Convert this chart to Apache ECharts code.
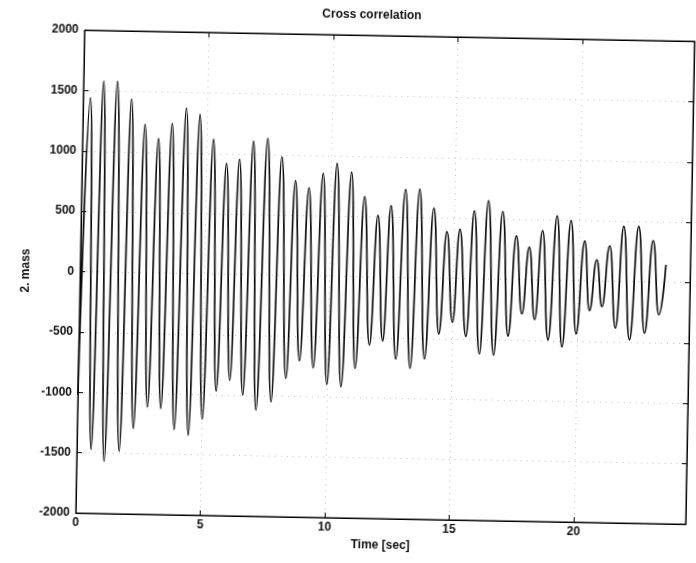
<!DOCTYPE html>
<html>
<head>
<meta charset="utf-8">
<script src="https://cdn.jsdelivr.net/npm/echarts@6/dist/echarts.min.js"></script>
<style>
html, body { margin: 0; padding: 0; background: #ffffff; overflow: hidden; }
#chart { width: 696px; height: 563px; transform: rotate(1.05deg); transform-origin: 50% 50%; }
</style>
</head>
<body>
<div id="chart"></div>
<script>
// ---- data (alternating extrema of the signal) ----
const chartTitle = 'Cross correlation';
const xAxisName = 'Time [sec]';
const yAxisName = '2. mass';

const sampleTimes = [
  0, 0.29, 0.57, 0.81, 1.10, 1.36, 1.70, 1.94, 2.25, 2.50, 2.80, 3.05, 3.34, 3.59, 3.89,
  4.15, 4.46, 4.70, 5.01, 5.26, 5.55, 5.80, 6.09, 6.32, 6.62, 6.87, 7.16, 7.44, 7.76,
  8.02, 8.34, 8.58, 8.87, 9.13, 9.43, 9.69, 9.99, 10.24, 10.56, 10.83, 11.11, 11.37,
  11.67, 11.92, 12.20, 12.44, 12.74, 13.01, 13.32, 13.58, 13.89, 14.16, 14.45, 14.70,
  14.99, 15.22, 15.54, 15.79, 16.09, 16.35, 16.66, 16.93, 17.23, 17.49, 17.77, 18.02,
  18.29, 18.54, 18.84, 19.12, 19.40, 19.68, 19.96, 20.24, 20.48, 20.74, 20.98, 21.25,
  21.54, 21.80, 22.11, 22.40, 22.71, 22.99, 23.27, 23.52
];
const sampleValues = [
  -1020, 1440, -1472, 1581, -1566, 1583, -1482, 1436, -1291, 1228, -1110, 1115, -1121, 1241, -1293,
  1370, -1338, 1320, -1203, 1117, -969, 918, -876, 953, -998, 1107, -1120, 1132, -1049,
  981, -853, 785, -705, 727, -761, 851, -896, 936, -914, 864, -759, 663,
  -564, 510, -528, 593, -676, 731, -750, 734, -671, 578, -462, 387,
  -363, 408, -478, 562, -620, 650, -629, 561, -468, 362, -282, 270,
  -328, 410, -494, 534, -550, 497, -440, 331, -245, 176, -210, 294,
  -387, 456, -482, 458, -424, 342, -270, 145
];

const xMin = 0, xMax = 24.5, xStep = 5;
const yMin = -2000, yMax = 2000, yStep = 500;

// ---- chart ----
const fontFamily = '"Liberation Sans", Arial, Helvetica, sans-serif';
const textStyle = { color: '#111', fontSize: 12, fontWeight: 'bold', fontFamily: fontFamily };
const seriesData = sampleTimes.map((t, i) => [t, sampleValues[i]]);
const plainNumber = (v) => String(v);

const gridLeft = 80, gridTop = 35, gridWidth = 610, gridHeight = 483;
const gridLine = { show: true, lineStyle: { color: '#c4c4c4', width: 1, type: [1, 5] } };

const chart = echarts.init(document.getElementById('chart'), null, { renderer: 'canvas' });
chart.setOption({
  animation: false,
  backgroundColor: '#ffffff',
  title: {
    text: chartTitle,
    left: 362,
    textAlign: 'center',
    top: 4,
    textStyle: textStyle
  },
  grid: {
    left: gridLeft, top: gridTop, width: gridWidth, height: gridHeight,
    show: true, borderColor: '#000', borderWidth: 1, backgroundColor: 'transparent'
  },
  xAxis: [
    {
      type: 'value', min: xMin, max: xMax, interval: xStep, position: 'bottom',
      name: xAxisName, nameLocation: 'middle', nameGap: 17, nameTextStyle: textStyle,
      axisLine: { show: true, onZero: false, lineStyle: { color: '#000', width: 1 } },
      axisTick: { show: true, inside: true, length: 5, lineStyle: { color: '#000' } },
      axisLabel: Object.assign({ margin: 4, showMaxLabel: false, formatter: plainNumber }, textStyle),
      splitLine: gridLine
    },
    {
      type: 'value', min: xMin, max: xMax, interval: xStep, position: 'top',
      axisLine: { show: true, onZero: false, lineStyle: { color: '#000', width: 1 } },
      axisTick: { show: true, inside: true, length: 5, lineStyle: { color: '#000' } },
      axisLabel: { show: false },
      splitLine: { show: false }
    }
  ],
  yAxis: [
    {
      type: 'value', min: yMin, max: yMax, interval: yStep, position: 'left',
      name: yAxisName, nameLocation: 'middle', nameRotate: 90, nameGap: 48,
      nameTextStyle: textStyle,
      axisLine: { show: true, onZero: false, lineStyle: { color: '#000', width: 1 } },
      axisTick: { show: true, inside: true, length: 5, lineStyle: { color: '#000' } },
      axisLabel: Object.assign({ margin: 6, formatter: plainNumber }, textStyle),
      splitLine: gridLine
    },
    {
      type: 'value', min: yMin, max: yMax, interval: yStep, position: 'right',
      axisLine: { show: true, onZero: false, lineStyle: { color: '#000', width: 1 } },
      axisTick: { show: true, inside: true, length: 5, lineStyle: { color: '#000' } },
      axisLabel: { show: false },
      splitLine: { show: false }
    }
  ],
  series: [
    {
      type: 'line',
      xAxisIndex: 0, yAxisIndex: 0,
      data: seriesData,
      showSymbol: false,
      smooth: 0.5,
      smoothMonotone: 'x',
      lineStyle: { color: '#0d0d0d', width: 1.7 },
      z: 5
    }
  ]
});
</script>
</body>
</html>
